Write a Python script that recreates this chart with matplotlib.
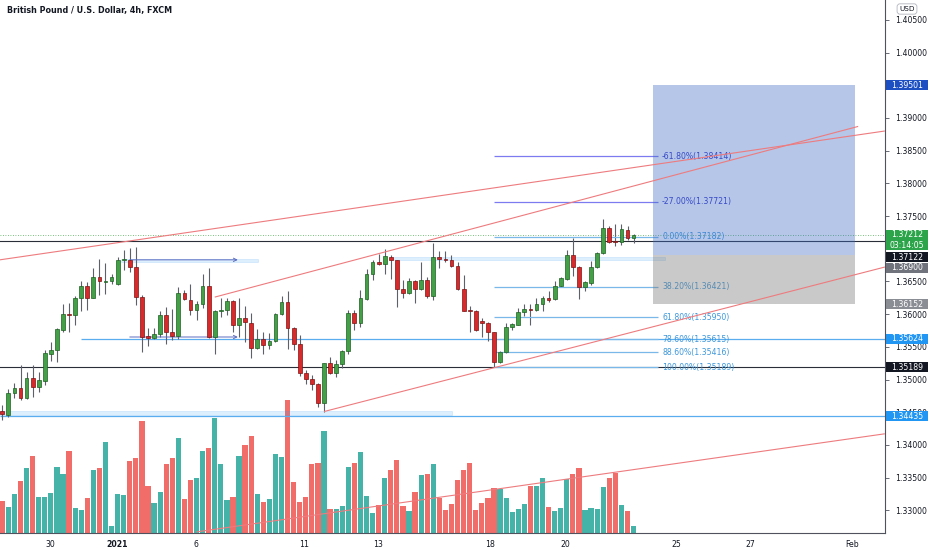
"""
GBPUSD 4h chart (FXCM) with fib retracement, long-position box,
trend lines and support zones, TradingView style.
"""

import numpy as np
import matplotlib
matplotlib.use("Agg")
import matplotlib.pyplot as plt
from matplotlib.patches import Rectangle
from matplotlib.transforms import offset_copy

# ── Candles (4h bars) ────────────────────────────────────────────────────────
opens = [1.3452, 1.3446, 1.3479, 1.3487, 1.3472, 1.3503, 1.3489, 1.3498, 1.3539, 1.3545,
         1.3576, 1.3600, 1.3599, 1.3624, 1.3643, 1.3625, 1.3657, 1.3649, 1.3650, 1.3646,
         1.3682, 1.3683, 1.3672, 1.3626, 1.3567, 1.3564, 1.3570, 1.3599, 1.3572, 1.3567,
         1.3633, 1.3622, 1.3606, 1.3615, 1.3643, 1.3565, 1.3604, 1.3607, 1.3620, 1.3584,
         1.3594, 1.3587, 1.3548, 1.3562, 1.3553, 1.3559, 1.3600, 1.3619, 1.3579, 1.3555,
         1.3510, 1.3501, 1.3493, 1.3464, 1.3525, 1.3510, 1.3523, 1.3544, 1.3602, 1.3586,
         1.3623, 1.3661, 1.3679, 1.3677, 1.3688, 1.3682, 1.3639, 1.3632, 1.3650, 1.3638,
         1.3652, 1.3627, 1.3688, 1.3684, 1.3682, 1.3674, 1.3639, 1.3606, 1.3605, 1.3590,
         1.3586, 1.3572, 1.3527, 1.3542, 1.3580, 1.3584, 1.3603, 1.3608, 1.3606, 1.3615,
         1.3625, 1.3623, 1.3643, 1.3654, 1.3690, 1.3672, 1.3642, 1.3648, 1.3672, 1.3694,
         1.3732, 1.3712, 1.3711, 1.3729, 1.3717]
highs = [1.3461, 1.3486, 1.3495, 1.3522, 1.3512, 1.3522, 1.3512, 1.3545, 1.3557, 1.3579,
         1.3615, 1.3617, 1.3628, 1.3650, 1.3649, 1.3670, 1.3685, 1.3678, 1.3662, 1.3688,
         1.3698, 1.3701, 1.3703, 1.3629, 1.3578, 1.3578, 1.3605, 1.3611, 1.3608, 1.3642,
         1.3637, 1.3646, 1.3620, 1.3661, 1.3671, 1.3606, 1.3624, 1.3625, 1.3621, 1.3625,
         1.3613, 1.3602, 1.3577, 1.3572, 1.3571, 1.3601, 1.3627, 1.3636, 1.3580, 1.3568,
         1.3515, 1.3507, 1.3494, 1.3526, 1.3535, 1.3530, 1.3545, 1.3606, 1.3606, 1.3637,
         1.3669, 1.3683, 1.3692, 1.3700, 1.3691, 1.3683, 1.3652, 1.3655, 1.3652, 1.3679,
         1.3657, 1.3708, 1.3697, 1.3697, 1.3691, 1.3679, 1.3660, 1.3612, 1.3606, 1.3594,
         1.3588, 1.3573, 1.3543, 1.3587, 1.3587, 1.3610, 1.3615, 1.3615, 1.3625, 1.3628,
         1.3636, 1.3651, 1.3656, 1.3698, 1.3716, 1.3674, 1.3651, 1.3681, 1.3695, 1.3745,
         1.3734, 1.3738, 1.3738, 1.3735, 1.3723]
lows = [1.3438, 1.3443, 1.3471, 1.3469, 1.3470, 1.3474, 1.3481, 1.3492, 1.3528, 1.3527,
        1.3572, 1.3572, 1.3584, 1.3605, 1.3606, 1.3624, 1.3629, 1.3630, 1.3646, 1.3644,
        1.3667, 1.3664, 1.3614, 1.3542, 1.3551, 1.3562, 1.3565, 1.3554, 1.3560, 1.3562,
        1.3621, 1.3599, 1.3591, 1.3609, 1.3563, 1.3539, 1.3596, 1.3599, 1.3573, 1.3565,
        1.3557, 1.3533, 1.3547, 1.3539, 1.3547, 1.3558, 1.3599, 1.3547, 1.3545, 1.3506,
        1.3493, 1.3484, 1.3458, 1.3451, 1.3509, 1.3504, 1.3517, 1.3539, 1.3576, 1.3581,
        1.3622, 1.3652, 1.3675, 1.3661, 1.3653, 1.3611, 1.3625, 1.3631, 1.3617, 1.3637,
        1.3624, 1.3622, 1.3670, 1.3680, 1.3672, 1.3637, 1.3604, 1.3572, 1.3574, 1.3565,
        1.3559, 1.3519, 1.3526, 1.3540, 1.3576, 1.3583, 1.3597, 1.3584, 1.3604, 1.3604,
        1.3619, 1.3622, 1.3641, 1.3652, 1.3658, 1.3623, 1.3636, 1.3645, 1.3670, 1.3692,
        1.3708, 1.3704, 1.3706, 1.3714, 1.3708]
closes = [1.3447, 1.3479, 1.3487, 1.3472, 1.3503, 1.3489, 1.3499, 1.3540, 1.3545, 1.3577,
          1.3600, 1.3598, 1.3624, 1.3643, 1.3625, 1.3657, 1.3650, 1.3651, 1.3657, 1.3683,
          1.3684, 1.3672, 1.3626, 1.3565, 1.3564, 1.3570, 1.3599, 1.3572, 1.3567, 1.3633,
          1.3623, 1.3606, 1.3615, 1.3643, 1.3565, 1.3605, 1.3607, 1.3620, 1.3584, 1.3594,
          1.3588, 1.3548, 1.3562, 1.3553, 1.3559, 1.3600, 1.3619, 1.3579, 1.3555, 1.3510,
          1.3501, 1.3493, 1.3464, 1.3525, 1.3510, 1.3523, 1.3544, 1.3602, 1.3586, 1.3624,
          1.3661, 1.3679, 1.3677, 1.3689, 1.3682, 1.3639, 1.3632, 1.3650, 1.3639, 1.3652,
          1.3628, 1.3688, 1.3684, 1.3682, 1.3674, 1.3639, 1.3605, 1.3605, 1.3576, 1.3586,
          1.3572, 1.3527, 1.3542, 1.3581, 1.3585, 1.3603, 1.3608, 1.3606, 1.3615, 1.3625,
          1.3622, 1.3643, 1.3655, 1.3690, 1.3672, 1.3642, 1.3649, 1.3672, 1.3694, 1.3732,
          1.3711, 1.3710, 1.3730, 1.3717, 1.37212]
volume = [97, 77, 116, 157, 194, 232, 108, 107, 120, 197,
          177, 246, 76, 70, 104, 190, 194, 274, 20, 116,
          114, 217, 225, 335, 141, 91, 122, 208, 224, 285,
          102, 160, 164, 246, 256, 346, 208, 99, 107, 230,
          263, 291, 117, 94, 101, 238, 228, 400, 152, 94,
          108, 207, 209, 306, 72, 73, 81, 199, 211, 243,
          112, 61, 84, 166, 188, 218, 82, 66, 123, 175,
          178, 206, 104, 69, 88, 160, 188, 210, 70, 90,
          105, 136, 133, 105, 63, 72, 87, 140, 142, 165,
          77, 67, 76, 161, 177, 195, 69, 75, 73, 139,
          165, 179, 84, 65, 22]

# date labels sit at fractional bar positions (weekends are skipped)
date_labels = ["30", "2021", "6", "11", "13", "18", "20", "25", "27", "Feb"]
date_pos    = [7.9, 18.9, 31.9, 49.7, 61.9, 80.3, 92.7, 111.0, 123.2, 140.0]

# ── Drawings ─────────────────────────────────────────────────────────────────
fib_start, fib_end = 81, 108
fib_levels = ["-61.80%", "-27.00%", "0.00%", "38.20%", "61.80%", "78.60%", "88.60%", "100.00%"]
fib_prices = [1.38414, 1.37721, 1.37182, 1.36421, 1.35950, 1.35615, 1.35416, 1.35189]

pos_start, pos_end = 107.2, 140.5
pos_target, pos_entry, pos_stop = 1.39501, 1.36900, 1.36152

# (x0, p0, x1, p1)
trend_lines = [(-0.4, 1.3683, 145.4, 1.3880),
               (35.0, 1.3626, 141.0, 1.3887),
               (53.0, 1.3451, 145.4, 1.3672),
               (32.0, 1.3267, 145.4, 1.3417)]

# (x0, x1, low, high)
zones = [(19.5, 42.1, 1.3680, 1.3685),
         (64.4, 109.2, 1.3682, 1.3688),
         (-0.4, 74.1, 1.3445, 1.3452)]
arrows = [(21.0, 38.8, 1.3683), (21.0, 38.8, 1.3565)]

price_line  = 1.37212
black_lines = [1.37122, 1.35189]
blue_rays   = [(13.0, 1.35624), (-0.4, 1.34435)]

# right-scale tags: (text, price, colour, shift down in px to avoid overlap)
price_tags = [("1.39501", 1.39501, "#1e4fc2", 0),
              ("1.37212", 1.37212, "#2ca54a", 0),
              ("03:14:05", 1.37212, "#2ca54a", 10.5),
              ("1.37122", 1.37122, "#131722", 16.6),
              ("1.36900", 1.36900, "#70737c", 12.5),
              ("1.36152", 1.36152, "#8b8d94", 0),
              ("1.35624", 1.35624, "#2196f3", 0),
              ("1.35189", 1.35189, "#131722", 0),
              ("1.34435", 1.34435, "#2196f3", 0)]

# ── Styling ──────────────────────────────────────────────────────────────────
UP, DOWN = "#43a047", "#d9292b"
UP_EDGE, DOWN_EDGE = "#1e5e22", "#7a1212"
VOL_UP, VOL_DOWN = "#26a69a", "#ef5350"
TEXT = "#131722"
FS = 5.6

XL, XR = -0.38, 145.42
YB, YT = 1.32653, 1.40803

plt.rcParams["font.family"] = ["DejaVu Sans"]

fig = plt.figure(figsize=(9.32, 5.5), dpi=100)
ax = fig.add_axes([0, 17 / 550, 885 / 932, 533 / 550])
ax_vol = ax.twinx()
ax.set_zorder(2)
ax.patch.set_visible(False)
ax_vol.set_zorder(1)

x = np.arange(len(opens))
o, h, l, c = map(np.array, (opens, highs, lows, closes))
up = c >= o

# volume pane
ax_vol.bar(x, volume, width=0.86, color=np.where(up, VOL_UP, VOL_DOWN),
           alpha=0.85, linewidth=0)
ax_vol.set_ylim(0, 1600)
ax_vol.set_yticks([])
for s in ax_vol.spines.values():
    s.set_visible(False)

# candles
ax.vlines(x, l, h, color="#5d606b", lw=0.8, zorder=3)
body_lo = np.minimum(o, c)
body_h = np.maximum(np.abs(c - o), 0.00009)
ax.bar(x, body_h, bottom=body_lo, width=0.62,
       color=np.where(up, UP, DOWN), edgecolor=np.where(up, UP_EDGE, DOWN_EDGE),
       linewidth=0.5, zorder=4)

# horizontal lines
ax.axhline(price_line, color="#4caf50", lw=0.6, ls=(0, (1, 2)), zorder=2)
for p in black_lines:
    ax.axhline(p, color="#2a2e39", lw=0.8, zorder=2)
for x0, p in blue_rays:
    ax.hlines(p, x0, XR + 1, color="#5aaef0", lw=0.9, zorder=2)

# zones and arrows
for x0, x1, lo, hi in zones:
    ax.add_patch(Rectangle((x0, lo), x1 - x0, hi - lo, facecolor="#2196f3",
                           alpha=0.15, edgecolor="#2196f3", lw=0.6, zorder=2))
for x0, x1, p in arrows:
    ax.annotate("", xy=(x1, p), xytext=(x0, p),
                arrowprops=dict(arrowstyle="->", color="#5c6bc0", lw=0.7,
                                shrinkA=0, shrinkB=0, mutation_scale=6), zorder=3)

# fib retracement
for lvl, p in zip(fib_levels, fib_prices):
    ext = lvl.startswith("-")
    line_col = "#7c7cf0" if ext else "#7ab8ea"
    txt_col = "#3535c8" if ext else "#3d97dc"
    ax.hlines(p, fib_start, fib_end, color=line_col, lw=0.9, zorder=3)
    ax.text(fib_end + 0.7, p, f"{lvl}({p:.5f})", color=txt_col, fontsize=FS,
            va="center", ha="left", zorder=3)

# long position box (drawn over the fib labels)
ax.add_patch(Rectangle((pos_start, pos_entry), pos_end - pos_start, pos_target - pos_entry,
                       facecolor="#3d6bc4", alpha=0.38, lw=0, zorder=5))
ax.add_patch(Rectangle((pos_start, pos_stop), pos_end - pos_start, pos_entry - pos_stop,
                       facecolor="#787878", alpha=0.4, lw=0, zorder=5))

# trend lines
for x0, p0, x1, p1 in trend_lines:
    ax.plot([x0, x1], [p0, p1], color="#ee7b7e", lw=0.8, zorder=6, solid_capstyle="butt")

# ── Axes ─────────────────────────────────────────────────────────────────────
ax.set_xlim(XL, XR)
ax.set_ylim(YB, YT)

# 1.370 and 1.395 sit fully under price tags, so they are left out
ticks = [t for t in np.arange(1.330, 1.4051, 0.005)
         if abs(t - 1.370) > 1e-6 and abs(t - 1.395) > 1e-6]
ax.yaxis.tick_right()
ax.set_yticks(ticks)
ax.set_yticklabels([f"{t:.5f}" for t in ticks], fontsize=FS, color=TEXT)
ax.tick_params(axis="y", length=3, width=0.6, color="#50535e", pad=4)

ax.set_xticks(date_pos)
ax.set_xticklabels(date_labels, fontsize=FS, color=TEXT)
ax.tick_params(axis="x", length=0, pad=5)
for t in ax.get_xticklabels():
    if t.get_text() == "2021":
        t.set_fontweight("bold")

for side in ("top", "left"):
    ax.spines[side].set_visible(False)
ax.spines["right"].set_color("#50535e")
ax.spines["bottom"].set_color("#50535e")
ax.spines["right"].set_linewidth(0.8)
ax.spines["bottom"].set_linewidth(0.8)

# price tags on the right scale
px_per_price = 533 / (YT - YB)
tag_h = 10 / px_per_price
for text, p, col, shift in price_tags:
    tr = offset_copy(ax.get_yaxis_transform(), fig=fig, y=-shift, units="dots")
    ax.add_patch(Rectangle((1.0012, p - tag_h / 2), 42 / 885, tag_h, transform=tr,
                           facecolor=col, lw=0, clip_on=False, zorder=10))
    ax.text(1.0249, p, text, transform=tr, color="white", fontsize=FS,
            ha="center", va="center", clip_on=False, zorder=11)

fig.text(907 / 932, 1 - 9 / 550, "USD", fontsize=5.2, color=TEXT, ha="center", va="center",
         bbox=dict(boxstyle="round,pad=0.3,rounding_size=0.4", fc="white", ec="#b2b5be", lw=0.6))
fig.text(7 / 932, 1 - 10 / 550, "British Pound / U.S. Dollar, 4h, FXCM",
         fontsize=5.8, fontweight="bold", color=TEXT, ha="left", va="center")

fig.savefig("out.png", dpi=100)
